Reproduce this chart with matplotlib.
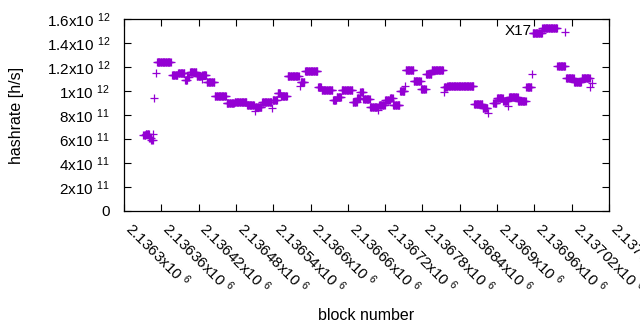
"""Hashrate per block, gnuplot-like scatter."""

import numpy as np
import matplotlib
matplotlib.use("Agg")
import matplotlib.pyplot as plt

# runs of consecutive blocks sharing one hashrate value
run_start = [
    2136331, 2136335, 2136341, 2136344, 2136347, 2136349, 2136351, 2136353,
    2136377, 2136387, 2136398, 2136402, 2136406, 2136417, 2136425, 2136426,
    2136433, 2136446, 2136465, 2136478, 2136498, 2136510, 2136511, 2136522,
    2136538, 2136539, 2136547, 2136552, 2136563, 2136583, 2136584, 2136591,
    2136612, 2136618, 2136636, 2136642, 2136650, 2136668, 2136675, 2136680,
    2136685, 2136696, 2136709, 2136710, 2136720, 2136728, 2136733, 2136744,
    2136752, 2136753, 2136766, 2136778, 2136786, 2136795, 2136814, 2136815,
    2136820, 2136863, 2136877, 2136885, 2136894, 2136900, 2136910, 2136918,
    2136919, 2136934, 2136947, 2136956, 2136957, 2136973, 2136997, 2137010,
    2137011, 2137024, 2137036, 2137050, 2137052,
]
run_len = [
    4, 6, 3, 3, 1, 1, 1, 23,
    10, 11, 4, 3, 11, 8, 1, 7,
    13, 19, 13, 20, 12, 1, 11, 16,
    1, 8, 5, 11, 19, 1, 7, 21,
    6, 18, 6, 8, 18, 7, 5, 5,
    11, 13, 1, 10, 8, 5, 11, 8,
    1, 13, 12, 8, 9, 19, 1, 5,
    43, 14, 8, 1, 6, 10, 8, 1,
    15, 13, 9, 1, 16, 24, 13, 1,
    13, 12, 14, 1, 1,
]
run_value = [
    0.63, 0.64, 0.61, 0.59, 0.64, 0.94, 1.15, 1.24,
    1.135, 1.15, 1.09, 1.12, 1.16, 1.125, 1.10, 1.135,
    1.075, 0.96, 0.90, 0.91, 0.885, 0.83, 0.865, 0.91,
    0.86, 0.925, 0.985, 0.96, 1.125, 1.04, 1.075, 1.165,
    1.035, 1.01, 0.925, 0.95, 1.01, 0.91, 0.94, 0.99,
    0.935, 0.87, 0.84, 0.885, 0.925, 0.94, 0.885, 1.0,
    1.04, 1.175, 1.085, 1.02, 1.14, 1.175, 0.99, 1.035,
    1.04, 0.89, 0.86, 0.82, 0.90, 0.94, 0.915, 0.875,
    0.95, 0.915, 1.035, 1.14, 1.48, 1.525, 1.21, 1.49,
    1.11, 1.075, 1.11, 1.035, 1.065,
]

xtick_values = [2136300 + 60 * k for k in range(14)]
xtick_labels = [
    "2.1363", "2.13636", "2.13642", "2.13648", "2.13654", "2.1366", "2.13666",
    "2.13672", "2.13678", "2.13684", "2.1369", "2.13696", "2.13702", "2.13708",
]
ytick_values = [0, 2e11, 4e11, 6e11, 8e11, 1e12, 1.2e12, 1.4e12, 1.6e12]
ytick_labels = ["0", "2x10 $^{11}$", "4x10 $^{11}$", "6x10 $^{11}$", "8x10 $^{11}$",
                "1x10 $^{12}$", "1.2x10 $^{12}$", "1.4x10 $^{12}$", "1.6x10 $^{12}$"]

label_block = 2136955
label_value = 1.5e12

plt.rcParams["font.family"] = ["Liberation Sans", "DejaVu Sans"]
plt.rcParams["mathtext.fontset"] = "custom"
plt.rcParams["mathtext.rm"] = "Liberation Sans"
plt.rcParams["mathtext.it"] = "Liberation Sans"
plt.rcParams["font.size"] = 11

blocks = np.concatenate([np.arange(s, s + n) for s, n in zip(run_start, run_len)])
hashrate = np.repeat(np.array(run_value) * 1e12, run_len)

fig = plt.figure(figsize=(6.4, 3.3), dpi=100, facecolor="white")
ax = fig.add_axes([124 / 640, 119 / 330, 485 / 640, 192 / 330])

ax.plot(blocks, hashrate, linestyle="none", marker="+", markersize=6,
        markeredgewidth=0.9, color="#9400d3")

ax.set_xlim(2136300, 2137080)
ax.set_ylim(0, 1.6e12)
ax.set_xticks(xtick_values)
ax.set_xticklabels([lab + "x10 $^{6}$" for lab in xtick_labels],
                   rotation=-45, ha="left", va="baseline", rotation_mode="anchor")
ax.set_yticks(ytick_values)
ax.set_yticklabels(ytick_labels)
ax.tick_params(direction="in", length=5, width=0.8, top=True, right=True,
               colors="black", labelsize=11)
ax.tick_params(axis="x", pad=13.5)
ax.tick_params(axis="y", pad=10)
for spine in ax.spines.values():
    spine.set_linewidth(0.9)

ax.set_xlabel("block number", fontsize=11.5, va="center", ha="center")
ax.xaxis.set_label_coords(0.5, (211 - 315) / 192)
ax.set_ylabel("hashrate [h/s]", fontsize=11.5, va="center", ha="center")
ax.yaxis.set_label_coords((17 - 124) / 485, 0.5)
ax.text(label_block, label_value, "X17", ha="right", va="center", fontsize=11)

fig.savefig("out.png", dpi=100)
plt.close()
